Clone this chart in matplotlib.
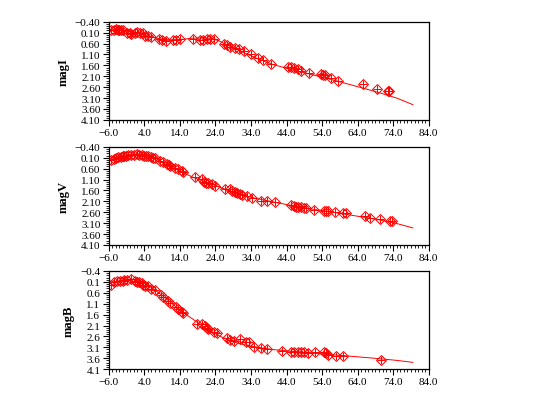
import matplotlib
matplotlib.use('Agg')
import matplotlib.pyplot as plt
from matplotlib.ticker import MultipleLocator, FuncFormatter

plt.rcParams['font.family'] = ['Liberation Serif', 'DejaVu Serif']

# observed points, band I
i_days = [-5.3, -4.5, -4.0, -3.5, -3.0, -2.5, -2.0, -1.0, 0.0, 0.3, 1.3, 2.0, 2.8, 3.6, 4.2, 5.0, 6.0,
          8.0, 9.0, 10.0, 12.0, 13.0, 14.0, 17.8, 19.7, 20.5, 21.5, 22.5, 23.5,
          26.3, 27.3, 28.2, 29.6, 30.5, 32.0, 34.0, 35.9, 37.3, 39.6, 44.3, 45.3, 46.2, 47.2, 48.0,
          50.4, 53.7, 54.2, 54.7, 56.6, 58.5, 65.5, 69.3, 72.4, 72.8]
i_mag = [0.00, -0.04, -0.05, -0.04, -0.03, -0.02, 0.00, 0.10, 0.12, 0.15, 0.10, 0.08, 0.10, 0.12, 0.25, 0.27, 0.30,
         0.40, 0.45, 0.47, 0.45, 0.42, 0.40, 0.39, 0.45, 0.42, 0.40, 0.41, 0.40,
         0.63, 0.66, 0.75, 0.80, 0.87, 0.93, 1.10, 1.26, 1.34, 1.55, 1.66, 1.68, 1.74, 1.78, 1.88,
         1.93, 2.00, 2.04, 2.06, 2.18, 2.30, 2.45, 2.69, 2.76, 2.78]
i_fit_x = [-5.5, -3.0, -1.0, 2.0, 5.0, 8.0, 11.0, 14.0, 17.0, 20.0, 23.0, 25.0, 28.0, 32.0,
           36.0, 40.0, 45.0, 50.0, 55.0, 60.0, 65.0, 70.0, 75.0, 79.5]
i_fit_y = [0.00, -0.02, 0.03, 0.12, 0.25, 0.37, 0.43, 0.42, 0.36, 0.34, 0.36, 0.48, 0.72, 1.02,
           1.30, 1.55, 1.78, 1.98, 2.18, 2.40, 2.62, 2.85, 3.10, 3.40]

# observed points, band V
v_days = [-5.3, -4.5, -4.0, -3.3, -2.6, -2.0, -1.6, -1.1, -0.5, 0.3, 1.0, 1.8, 2.5, 3.2, 3.8, 4.6,
          5.1, 5.8, 6.4, 7.0, 8.4, 9.3, 10.3, 10.8, 11.2, 12.6, 13.6, 14.5, 15.0,
          18.3, 20.2, 20.8, 21.4, 22.0, 23.0, 24.0, 26.8, 28.2, 28.7, 29.5, 30.0, 31.0, 31.5,
          33.0, 34.3, 36.7, 38.4, 40.7, 45.2, 46.0, 46.6, 47.1, 48.0, 48.8, 49.5, 51.6,
          54.6, 55.1, 55.6, 57.5, 59.9, 60.8, 66.0, 67.4, 70.3, 73.1, 73.6]
v_mag = [0.19, 0.15, 0.10, 0.08, 0.06, 0.04, 0.03, 0.00, -0.02, -0.04, -0.04, -0.05, -0.03, -0.02, 0.00, 0.02,
         0.04, 0.08, 0.10, 0.12, 0.26, 0.32, 0.38, 0.45, 0.50, 0.57, 0.62, 0.70, 0.76,
         0.97, 1.08, 1.20, 1.25, 1.28, 1.32, 1.38, 1.55, 1.55, 1.63, 1.66, 1.72, 1.78, 1.82,
         1.86, 1.94, 2.07, 2.10, 2.15, 2.29, 2.33, 2.36, 2.38, 2.38, 2.40, 2.41, 2.49,
         2.54, 2.54, 2.55, 2.57, 2.65, 2.65, 2.77, 2.85, 2.91, 2.99, 3.00]
v_fit_x = [-5.3, -3.0, -1.0, 1.0, 3.0, 5.0, 7.0, 10.0, 14.0, 18.0, 22.0, 26.0, 30.0, 35.0,
           40.0, 45.0, 50.0, 55.0, 60.0, 65.0, 70.0, 75.0, 79.5]
v_fit_y = [0.20, 0.08, 0.00, -0.05, -0.07, -0.03, 0.10, 0.40, 0.72, 1.02, 1.26, 1.50, 1.74, 1.95,
           2.12, 2.28, 2.43, 2.55, 2.68, 2.81, 2.95, 3.12, 3.32]

# observed points, band B
b_days = [-5.3, -4.4, -3.6, -2.8, -2.0, -1.6, -0.8, 0.3, 1.3, 2.0, 2.6, 3.2, 3.6, 4.3, 5.0,
          6.0, 7.0, 8.8, 9.3, 10.7, 11.2, 13.0, 13.6, 14.5, 15.0, 18.8, 20.2, 21.0, 21.5, 22.0,
          23.5, 24.5, 27.3, 28.2, 29.2, 31.0, 32.5, 33.5, 34.8, 36.7, 38.6, 42.7,
          45.2, 46.2, 47.1, 48.0, 49.0, 50.0, 52.0, 54.6, 55.1, 55.6, 58.0, 59.9, 70.6]
b_mag = [0.23, 0.12, 0.08, 0.05, 0.04, 0.00, -0.01, -0.02, 0.07, 0.10, 0.12, 0.15, 0.23, 0.27, 0.30,
         0.41, 0.46, 0.69, 0.77, 0.98, 1.08, 1.24, 1.32, 1.48, 1.52, 2.02, 2.02, 2.12, 2.20, 2.26,
         2.38, 2.46, 2.69, 2.76, 2.80, 2.73, 2.85, 2.85, 3.07, 3.12, 3.20, 3.27,
         3.30, 3.33, 3.32, 3.32, 3.33, 3.35, 3.32, 3.33, 3.38, 3.43, 3.48, 3.51, 3.70]
b_fit_x = [-5.3, -3.0, -1.0, 1.0, 3.0, 6.0, 10.0, 14.0, 18.0, 22.0, 26.0, 30.0, 34.0,
           40.0, 45.0, 50.0, 55.0, 60.0, 65.0, 70.0, 75.0, 79.5]
b_fit_y = [0.25, 0.05, -0.02, -0.01, 0.08, 0.35, 0.85, 1.40, 1.85, 2.30, 2.65, 2.90, 3.05,
           3.20, 3.28, 3.35, 3.42, 3.48, 3.55, 3.62, 3.70, 3.79]

panels = [
    ('magI', i_days, i_mag, i_fit_x, i_fit_y, '%.2f', [0.203, 0.708, 0.597, 0.237]),
    ('magV', v_days, v_mag, v_fit_x, v_fit_y, '%.2f', [0.203, 0.406, 0.597, 0.237]),
    ('magB', b_days, b_mag, b_fit_x, b_fit_y, '%.1f', [0.203, 0.106, 0.597, 0.237]),
]

fig = plt.figure(figsize=(5.36, 4.14), dpi=100)

for name, xd, yd, fx, fy, fmt, pos in panels:
    ax = fig.add_axes(pos)
    ax.plot(fx, fy, color='red', linewidth=0.7)
    ax.plot(xd, yd, linestyle='none', marker='D', markersize=5, markerfacecolor='none',
            markeredgecolor='red', markeredgewidth=0.7)
    ax.plot(xd, yd, linestyle='none', marker='+', markersize=6, color='red', markeredgewidth=0.7)

    ax.set_xlim(-6, 84)
    ax.set_ylim(4.1, -0.4)
    ax.xaxis.set_major_locator(MultipleLocator(10))
    ax.xaxis.set_minor_locator(MultipleLocator(1))
    ax.yaxis.set_major_locator(MultipleLocator(0.5))
    ax.yaxis.set_minor_locator(MultipleLocator(0.1))
    ax.xaxis.set_major_formatter(FuncFormatter(lambda v, p: ('%.1f' % (v + 0.0)).replace('-', '\u2212')))
    ax.yaxis.set_major_formatter(FuncFormatter(lambda v, p, f=fmt: (f % (v + 0.0)).replace('-', '\u2212')))
    ax.set_xticks([-6 + 10 * k for k in range(10)])
    ax.set_yticks([-0.4 + 0.5 * k for k in range(10)])
    ax.tick_params(which='major', direction='out', length=4, width=0.8, labelsize=8, pad=2)
    ax.tick_params(which='minor', direction='out', length=2, width=0.6)
    ax.set_ylabel(name, fontsize=9, fontweight='bold', labelpad=4)
    for s in ax.spines.values():
        s.set_linewidth(0.9)

fig.savefig('out.png', dpi=100)
